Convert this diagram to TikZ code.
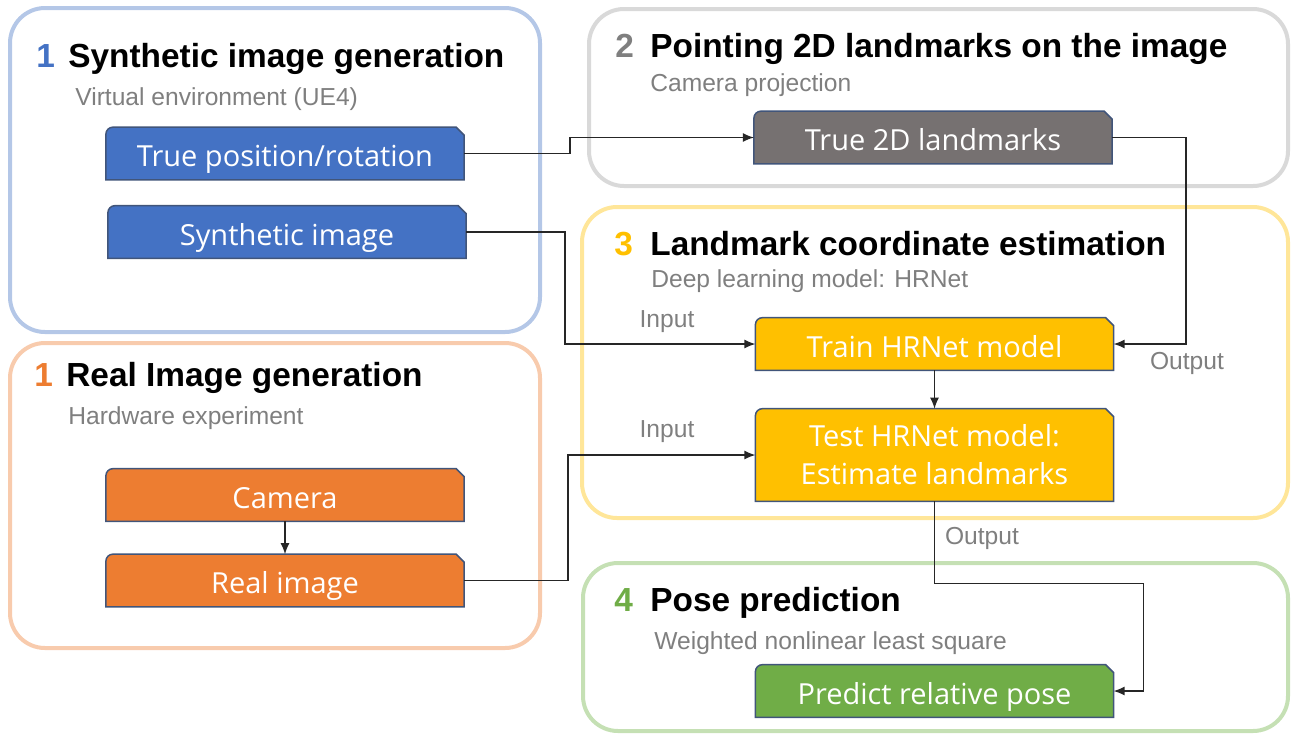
\documentclass[tikz,border=0pt]{standalone}
\usepackage{fontspec}
\setmainfont{Liberation Sans}
\newfontfamily\boxfont{Open Sans}
\usetikzlibrary{arrows.meta,backgrounds}
\definecolor{synBlue}{HTML}{4472C4}
\definecolor{synFrame}{HTML}{B4C7E7}
\definecolor{projGray}{HTML}{767171}
\definecolor{projFrame}{HTML}{D9D9D9}
\definecolor{netYellow}{HTML}{FFC000}
\definecolor{netFrame}{HTML}{FFE699}
\definecolor{realOrange}{HTML}{ED7D31}
\definecolor{realFrame}{HTML}{F8CBAD}
\definecolor{poseGreen}{HTML}{70AD47}
\definecolor{poseFrame}{HTML}{C5E0B4}
\definecolor{edge}{HTML}{41557A}
\definecolor{soft}{HTML}{7F7F7F}

\begin{document}
\begin{tikzpicture}[x=0.2mm, y=-0.2mm,
  panel/.style={line width=0.8mm, rounded corners=7mm},
  taskbox/.style={minimum width=71.5mm, minimum height=10.4mm, inner sep=0pt, text=white, align=center,
    text height=15pt, text depth=0pt, font=\boxfont\fontsize{16.5}{21.5}\selectfont},
  headline/.style={anchor=base west, inner sep=0pt, font=\fontsize{19}{22}\selectfont\bfseries},
  subline/.style={anchor=base west, inner sep=0pt, text=soft, font=\fontsize{14}{16}\selectfont},
  portlabel/.style={text=soft, font=\fontsize{14}{16}\selectfont},
  flow/.style={draw=black!85, line width=0.25mm, -{Latex[length=2.2mm,width=1.8mm]}}]
\useasboundingbox (0,0) rectangle (1293,735);

% headers of the five panels
\node[headline, text=synBlue] (n1) at (36,67) {1};
\node[headline] (t1) at (68,67) {Synthetic image generation};
\node[subline] (s1) at (75,105) {Virtual environment (UE4)};
\node[headline, text=soft] (n2) at (615,57) {2};
\node[headline] (t2) at (650,57) {Pointing 2D landmarks on the image};
\node[subline] (s2) at (650,91) {Camera projection};
\node[headline, text=netYellow] (n3) at (614,255) {3};
\node[headline] (t3) at (650,255) {Landmark coordinate estimation};
\node[subline] (s3) at (651,287) {Deep learning model: HRNet};
\node[headline, text=realOrange] (n1b) at (34,386) {1};
\node[headline] (t1b) at (66,386) {Real Image generation};
\node[subline] (s1b) at (68,424) {Hardware experiment};
\node[headline, text=poseGreen] (n4) at (614,611) {4};
\node[headline] (t4) at (650,611) {Pose prediction};
\node[subline] (s4) at (654,649) {Weighted nonlinear least square};

% process boxes
\node[taskbox] (pos) at (285,153.5) {True position/rotation};
\node[taskbox] (syn) at (287,232) {Synthetic image};
\node[taskbox] (lm) at (933,137.5) {True 2D landmarks};
\node[taskbox] (train) at (934.5,344) {Train HRNet model};
\node[taskbox, text height=, text depth=, minimum height=18.4mm] (test) at (934.5,455) {Test HRNet model:\\Estimate landmarks};
\node[taskbox] (cam) at (285,495) {Camera};
\node[taskbox] (real) at (285,580.5) {Real image};
\node[taskbox] (pred) at (934.5,691) {Predict relative pose};

\begin{scope}[on background layer]
\draw[panel, draw=synFrame] (10,8) rectangle (540,332);
\draw[panel, draw=projFrame] (589,9) rectangle (1288,186);
\draw[panel, draw=netFrame] (582,207) rectangle (1288,518);
\draw[panel, draw=realFrame] (10,343) rectangle (540,648);
\draw[panel, draw=poseFrame] (583,563) rectangle (1288,731);
\foreach \n/\c in {pos/synBlue, syn/synBlue, lm/projGray, train/netYellow, test/netYellow, cam/realOrange, real/realOrange, pred/poseGreen}
  \filldraw[fill=\c, draw=edge, line width=0.3mm] (\n.south west) -- ([yshift=-1.4mm]\n.north west)
    arc[start angle=180, end angle=90, radius=1.4mm] -- ([xshift=-1.6mm]\n.north east)
    -- ([yshift=-1.6mm]\n.north east) -- (\n.south east) -- cycle;
\end{scope}

% connectors
\draw[flow] (pos.east) -- ++(106,0) |- (lm.west);
\draw[flow] (syn.east) -- ++(99,0) |- (train.west);
\draw[flow] (real.east) -- ++(104,0) |- (test.west);
\draw[flow] (lm.east) -- ++(74,0) |- (train.east);
\draw[flow] (train) -- (test);
\draw[flow] (cam) -- (real);
\draw[flow] (test.south) -- ++(0,82) -| ([xshift=6mm]pred.east) -- (pred.east);
\node[portlabel] (in1) at (667,322) {Input};
\node[portlabel] (in2) at (667,432) {Input};
\node[portlabel] (out1) at (1187,363) {Output};
\node[portlabel] (out2) at (982,538) {Output};
\end{tikzpicture}
\end{document}
